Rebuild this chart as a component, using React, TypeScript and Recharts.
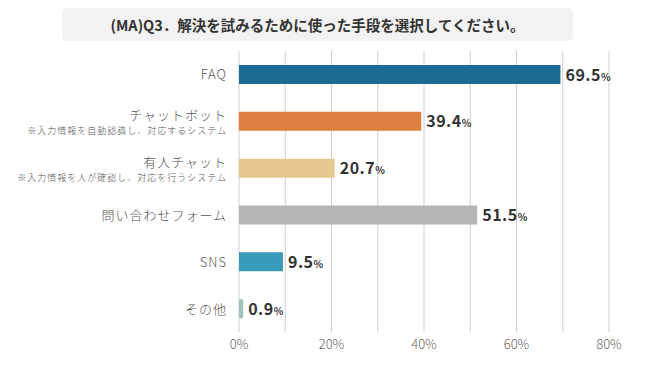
import { Bar, BarChart, CartesianGrid, Cell, LabelList, XAxis, YAxis } from 'recharts'

const CATEGORIES = ['FAQ', 'チャットボット', '有人チャット', '問い合わせフォーム', 'SNS', 'その他']
const SUB_LABELS = [
  '',
  '※入力情報を自動認識し、対応するシステム',
  '※入力情報を人が確認し、対応を行うシステム',
  '',
  '',
  '',
]
const VALUES = [69.5, 39.4, 20.7, 51.5, 9.5, 0.9]
const COLORS = ['#1a6a94', '#de7f3f', '#e8c890', '#b5b5b5', '#3a9aba', '#9ec4b8']
const X_TICKS = [0, 10, 20, 30, 40, 50, 60, 70, 80]

const FONT = '"Noto Sans CJK JP", "Noto Sans", sans-serif'

const data = CATEGORIES.map((name, i) => ({ name, sub: SUB_LABELS[i], value: VALUES[i] }))

function CategoryTick(props: any) {
  const { x, y, payload, index } = props
  const sub = SUB_LABELS[index] ?? ''
  const tx = x - 4
  const main = (
    <text
      x={tx}
      y={sub ? y - 6 : y}
      dy={5}
      textAnchor="end"
      fontSize={13}
      letterSpacing={1}
      fontWeight={300}
      fill="#555"
      fontFamily={FONT}
    >
      {payload.value}
    </text>
  )
  if (!sub) return main
  return (
    <g>
      {main}
      <text
        x={tx}
        y={y + 10}
        dy={3}
        textAnchor="end"
        fontSize={9}
        letterSpacing={1}
        fontWeight={300}
        fill="#555"
        fontFamily={FONT}
      >
        {sub}
      </text>
    </g>
  )
}

function ValueLabel(props: any) {
  const { x, y, width, height, value } = props
  return (
    <text
      x={x + width + 5}
      y={y + height / 2}
      dy={6}
      fontFamily={FONT}
      fill="#333"
      fontWeight={700}
      letterSpacing={0.5}
    >
      <tspan fontSize={16}>{Number(value).toFixed(1)}</tspan>
      <tspan fontSize={10}>%</tspan>
    </text>
  )
}

export default function App() {
  return (
    <div style={{ position: 'absolute', left: 0, top: 0, width: 670, height: 375, background: '#fff' }}>
      <div
        style={{
          position: 'absolute',
          left: 62,
          top: 8,
          width: 511,
          height: 33,
          background: '#f2f2f2',
          borderRadius: 5,
          display: 'flex',
          alignItems: 'center',
          justifyContent: 'center',
          fontFamily: FONT,
          fontWeight: 700,
          fontSize: 14.5,
          color: '#333',
        }}
      >
        (MA)Q3．解決を試みるために使った手段を選択してください。
      </div>
      <BarChart
        width={670}
        height={375}
        data={data}
        layout="vertical"
        margin={{ top: 51, right: 61, bottom: 18, left: 8 }}
        barCategoryGap={14}
      >
        <CartesianGrid horizontal={false} stroke="#d0d0d0" />
        <XAxis
          type="number"
          domain={[0, 80]}
          ticks={X_TICKS}
          interval={0}
          axisLine={false}
          tickLine={false}
          tickMargin={2}
          height={25}
          tick={{ fontSize: 13, fill: '#666', fontFamily: FONT, fontWeight: 300 }}
          tickFormatter={(v) => (Number(v) % 20 === 0 ? `${v}%` : '')}
        />
        <YAxis
          type="category"
          dataKey="name"
          width={231}
          axisLine={false}
          tickLine={false}
          interval={0}
          tick={<CategoryTick />}
        />
        <Bar dataKey="value" barSize={19} isAnimationActive={false}>
          {data.map((d, i) => (
            <Cell key={d.name} fill={COLORS[i]} />
          ))}
          <LabelList dataKey="value" content={<ValueLabel />} />
        </Bar>
      </BarChart>
    </div>
  )
}
